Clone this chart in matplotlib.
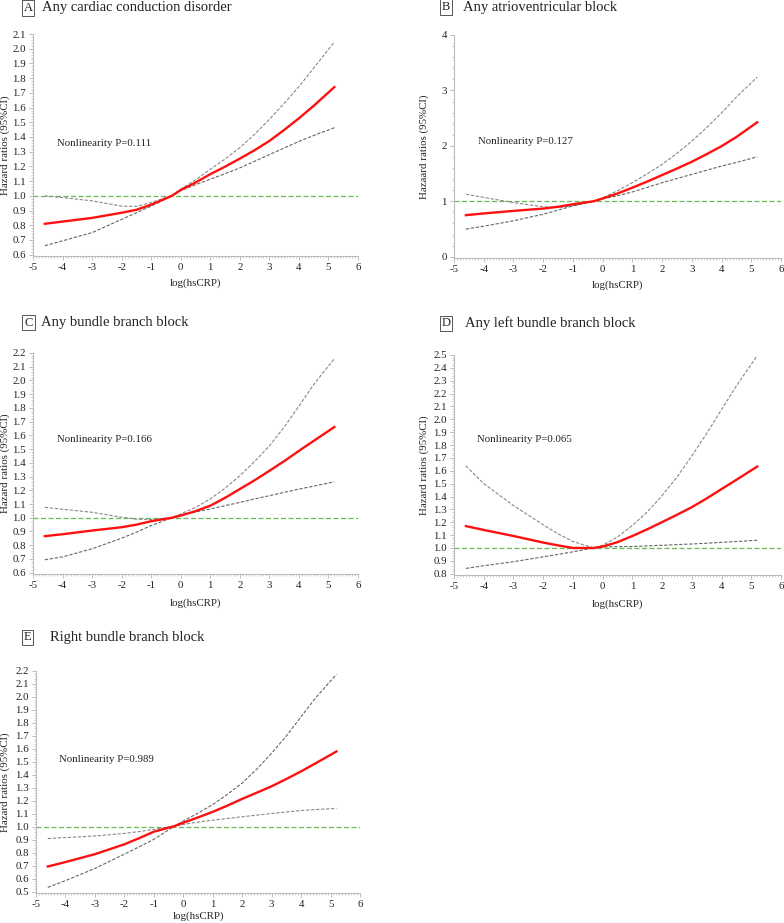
import numpy as np
import matplotlib
matplotlib.use("Agg")
import matplotlib.pyplot as plt
from matplotlib.ticker import MultipleLocator, AutoMinorLocator

plt.rcParams['font.family'] = ['Liberation Serif', 'DejaVu Serif']
plt.rcParams['axes.unicode_minus'] = False

# common x grid (log hsCRP)
x = [-4.6, -4, -3, -2, -1.5, -1, -0.3, 0, 0.5, 1, 1.5, 2, 2.5, 3, 3.5, 4, 4.5, 5.2]

# A  Any cardiac conduction disorder
a_hr = [0.81, 0.825, 0.85, 0.885, 0.905, 0.94, 1.0, 1.04, 1.09, 1.147, 1.198, 1.253, 1.31, 1.373, 1.448, 1.527, 1.612, 1.739]
a_hi = [1.0, 0.988, 0.966, 0.93, 0.928, 0.955, 1.0, 1.045, 1.108, 1.18, 1.25, 1.327, 1.418, 1.52, 1.628, 1.742, 1.868, 2.046]
a_lo = [0.661, 0.694, 0.75, 0.84, 0.885, 0.93, 1.0, 1.035, 1.075, 1.113, 1.15, 1.19, 1.235, 1.28, 1.325, 1.37, 1.41, 1.463]

# B  Any atrioventricular block
b_hr = [0.749, 0.78, 0.826, 0.868, 0.9, 0.946, 1.0, 1.05, 1.14, 1.245, 1.355, 1.473, 1.59, 1.713, 1.85, 1.994, 2.16, 2.425]
b_hi = [1.126, 1.07, 0.976, 0.9, 0.886, 0.916, 1.0, 1.06, 1.19, 1.335, 1.495, 1.665, 1.865, 2.084, 2.33, 2.593, 2.88, 3.24]
b_lo = [0.497, 0.55, 0.647, 0.766, 0.84, 0.916, 1.0, 1.04, 1.1, 1.168, 1.25, 1.335, 1.41, 1.485, 1.56, 1.635, 1.7, 1.802]

# C  Any bundle branch block
c_hr = [0.866, 0.88, 0.907, 0.931, 0.95, 0.975, 1.0, 1.016, 1.048, 1.088, 1.145, 1.209, 1.273, 1.342, 1.412, 1.487, 1.56, 1.661]
c_hi = [1.076, 1.062, 1.04, 1.004, 0.99, 0.987, 1.0, 1.028, 1.075, 1.137, 1.215, 1.306, 1.41, 1.523, 1.66, 1.813, 1.97, 2.159]
c_lo = [0.694, 0.715, 0.774, 0.851, 0.895, 0.943, 1.0, 1.021, 1.042, 1.064, 1.088, 1.112, 1.137, 1.161, 1.185, 1.209, 1.23, 1.262]

# D  Any left bundle branch block
d_hr = [1.17, 1.14, 1.093, 1.042, 1.02, 1.0, 1.0, 1.011, 1.045, 1.093, 1.145, 1.201, 1.258, 1.317, 1.385, 1.458, 1.53, 1.633]
d_hi = [1.638, 1.5, 1.33, 1.18, 1.11, 1.05, 1.0, 1.021, 1.085, 1.175, 1.28, 1.407, 1.55, 1.716, 1.89, 2.076, 2.26, 2.495]
d_lo = [0.841, 0.862, 0.893, 0.931, 0.95, 0.97, 1.0, 1.008, 1.01, 1.011, 1.016, 1.021, 1.026, 1.031, 1.037, 1.044, 1.05, 1.06]

# E  Right bundle branch block
e_hr = [0.694, 0.728, 0.789, 0.865, 0.912, 0.962, 1.005, 1.031, 1.072, 1.115, 1.163, 1.215, 1.263, 1.312, 1.368, 1.427, 1.49, 1.58]
e_hi = [0.909, 0.917, 0.929, 0.949, 0.963, 0.98, 1.005, 1.018, 1.036, 1.051, 1.064, 1.077, 1.09, 1.102, 1.114, 1.125, 1.133, 1.141]
e_lo = [0.533, 0.585, 0.679, 0.789, 0.845, 0.903, 1.005, 1.045, 1.105, 1.171, 1.25, 1.337, 1.445, 1.567, 1.7, 1.848, 1.995, 2.174]

letters = ['A', 'B', 'C', 'D', 'E']
titles = ['Any cardiac conduction disorder', 'Any atrioventricular block',
          'Any bundle branch block', 'Any left bundle branch block',
          'Right bundle branch block']
p_texts = ['Nonlinearity P=0.111', 'Nonlinearity P=0.127', 'Nonlinearity P=0.166',
           'Nonlinearity P=0.065', 'Nonlinearity P=0.989']
ylabels = ['Hazard ratios (95%CI)', 'Hazaard ratios (95%CI)', 'Hazard ratios (95%CI)',
           'Hazard ratios (95%CI)', 'Hazard ratios (95%CI)']
series = [(a_hr, a_hi, a_lo), (b_hr, b_hi, b_lo), (c_hr, c_hi, c_lo),
          (d_hr, d_hi, d_lo), (e_hr, e_hi, e_lo)]
ylims = [(0.6, 2.1), (0, 4), (0.6, 2.2), (0.8, 2.5), (0.5, 2.2)]
ysteps = [0.1, 1, 0.1, 0.1, 0.1]
p_pos = [(-4.2, 1.355), (-4.2, 2.07), (-4.18, 1.572), (-4.24, 1.844), (-4.22, 1.516)]

W, H = 784, 923
# layout in pixels: left, top, right, bottom of each axes
boxes = [(33, 34, 358, 256), (454, 35, 781, 258), (33, 353, 358, 574),
         (454, 355, 781, 575), (36, 671, 360, 893)]
# letter box centre and title start
heads = [((28, 8), 42), ((445.5, 7), 463), ((28.5, 322.5), 41),
         ((446, 323.5), 465), ((27.5, 637.5), 50)]
ylab_x = [-0.072, -0.076, -0.072, -0.076, -0.08]
xlab_y = [-0.10, -0.10, -0.11, -0.11, -0.082]

fig = plt.figure(figsize=(W / 100, H / 100), dpi=100)
spine_col = '#bbbbbb'
txt_col = '#222222'
fs = 7.8

for i in range(5):
    l, t, r, b = boxes[i]
    ax = fig.add_axes([l / W, 1 - b / H, (r - l) / W, (b - t) / H])
    hr, hi, lo = series[i]
    y0, y1 = ylims[i]
    pad = (y1 - y0) * 0.006

    ax.axhline(1.0, color='#66bb55', lw=0.9, ls=(0, (4, 2)), zorder=1)
    ax.plot(x, hi, color='#888888', lw=0.8, ls=(0, (3, 1.5)), zorder=2)
    ax.plot(x, lo, color='#666666', lw=0.8, ls=(0, (3, 1.5)), zorder=2)
    ax.plot(x, hr, color='#ff1010', lw=1.7, zorder=3)

    ax.set_xlim(-5, 6)
    ax.set_ylim(y0 - pad, y1)
    ax.set_xticks(range(-5, 7))
    ax.xaxis.set_minor_locator(MultipleLocator(0.1))
    if ysteps[i] < 1:
        vals = np.arange(y0, y1 + 0.001, ysteps[i])
        ax.set_yticks(np.round(vals, 1))
        ax.set_yticklabels(['%.1f' % v for v in vals])
    else:
        ax.set_yticks(range(int(y0), int(y1) + 1))
    ax.yaxis.set_minor_locator(AutoMinorLocator(5))

    for s in ['top', 'right']:
        ax.spines[s].set_visible(False)
    for s in ['left', 'bottom']:
        ax.spines[s].set_color(spine_col)
        ax.spines[s].set_linewidth(0.8)
    ax.tick_params(which='major', length=3, width=0.7, color=spine_col,
                   labelsize=fs, labelcolor=txt_col, pad=2)
    ax.tick_params(which='minor', length=1.5, width=0.5, color=spine_col)

    ax.set_xlabel('log(hsCRP)', fontsize=fs, color=txt_col)
    ax.xaxis.set_label_coords(0.5, xlab_y[i])
    ax.set_ylabel(ylabels[i], fontsize=fs, color=txt_col)
    ax.yaxis.set_label_coords(ylab_x[i], 0.5)

    ax.text(p_pos[i][0], p_pos[i][1], p_texts[i], fontsize=fs, color=txt_col,
            va='center', ha='left')

    (bx, by), tx = heads[i]
    fig.text(bx / W, 1 - by / H, letters[i], fontsize=9, color=txt_col,
             ha='center', va='center',
             bbox=dict(boxstyle='square,pad=0.15', fc='white', ec='#555555', lw=0.7))
    fig.text(tx / W, 1 - by / H, titles[i], fontsize=10.5, color=txt_col,
             ha='left', va='center')

fig.savefig('out.png', dpi=100)
